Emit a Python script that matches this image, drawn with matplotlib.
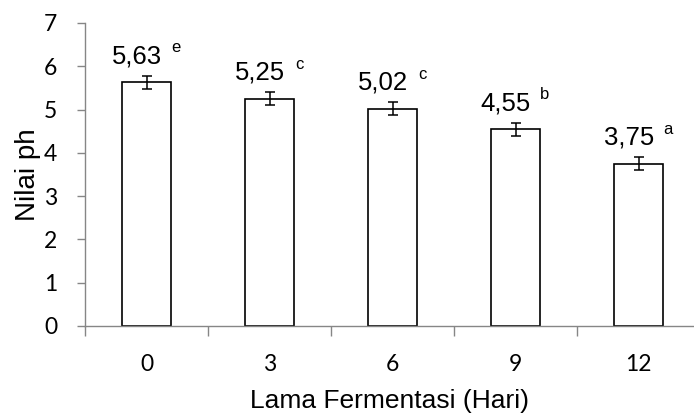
import matplotlib
matplotlib.use("Agg")
import matplotlib.pyplot as plt
import numpy as np

days = ["0", "3", "6", "9", "12"]
ph_values = [5.63, 5.25, 5.02, 4.55, 3.75]
ph_errors = [0.15, 0.15, 0.15, 0.15, 0.15]
letters = ["e", "c", "c", "b", "a"]

plt.rcParams["font.family"] = ["Liberation Sans", "DejaVu Sans"]

fig = plt.figure(figsize=(6.94, 4.15), dpi=100)
ax = fig.add_axes([0.1225, 0.2145, 0.8775, 0.7301])

x = np.arange(len(days))
ax.bar(x, ph_values, width=0.4, color="white", edgecolor="black", linewidth=1.2,
       yerr=ph_errors, capsize=3.5, error_kw={"elinewidth": 1.1, "capthick": 1.1, "ecolor": "black"},
       zorder=2)

# value labels with significance letter as a small superscript
for xi, v, let in zip(x, ph_values, letters):
    label = f"{v:.2f}".replace(".", ",")
    ax.text(xi - 0.08, v + 0.6, label, ha="center", va="center", fontsize=18.5)
    ax.text(xi + 0.24, v + 0.8, let, ha="center", va="center", fontsize=12)

ax.set_xlim(-0.5, -0.5 + 609 / 123)
ax.set_ylim(0, 7)
ax.set_yticks(range(0, 8))

ax.set_xticks(x)
ax.set_xticklabels(days)
ax.set_xticks(np.arange(-0.5, 4.5, 1.0), minor=True)
ax.tick_params(axis="x", which="major", length=0, pad=20)
ax.tick_params(axis="x", which="minor", length=7, color="#868686", width=1)
ax.tick_params(axis="y", length=6, color="#868686", width=1, pad=14)
for lab in ax.get_xticklabels() + ax.get_yticklabels():
    lab.set_family(["Lato", "DejaVu Sans"])
    lab.set_fontsize(16.5)

for s in ["top", "right"]:
    ax.spines[s].set_visible(False)
for s in ["left", "bottom"]:
    ax.spines[s].set_color("#868686")
    ax.spines[s].set_linewidth(1)

ax.set_ylabel("Nilai ph", fontsize=20, labelpad=2)
ax.set_xlabel("Lama Fermentasi (Hari)", fontsize=19, labelpad=10)

fig.savefig("out.png", dpi=100)
